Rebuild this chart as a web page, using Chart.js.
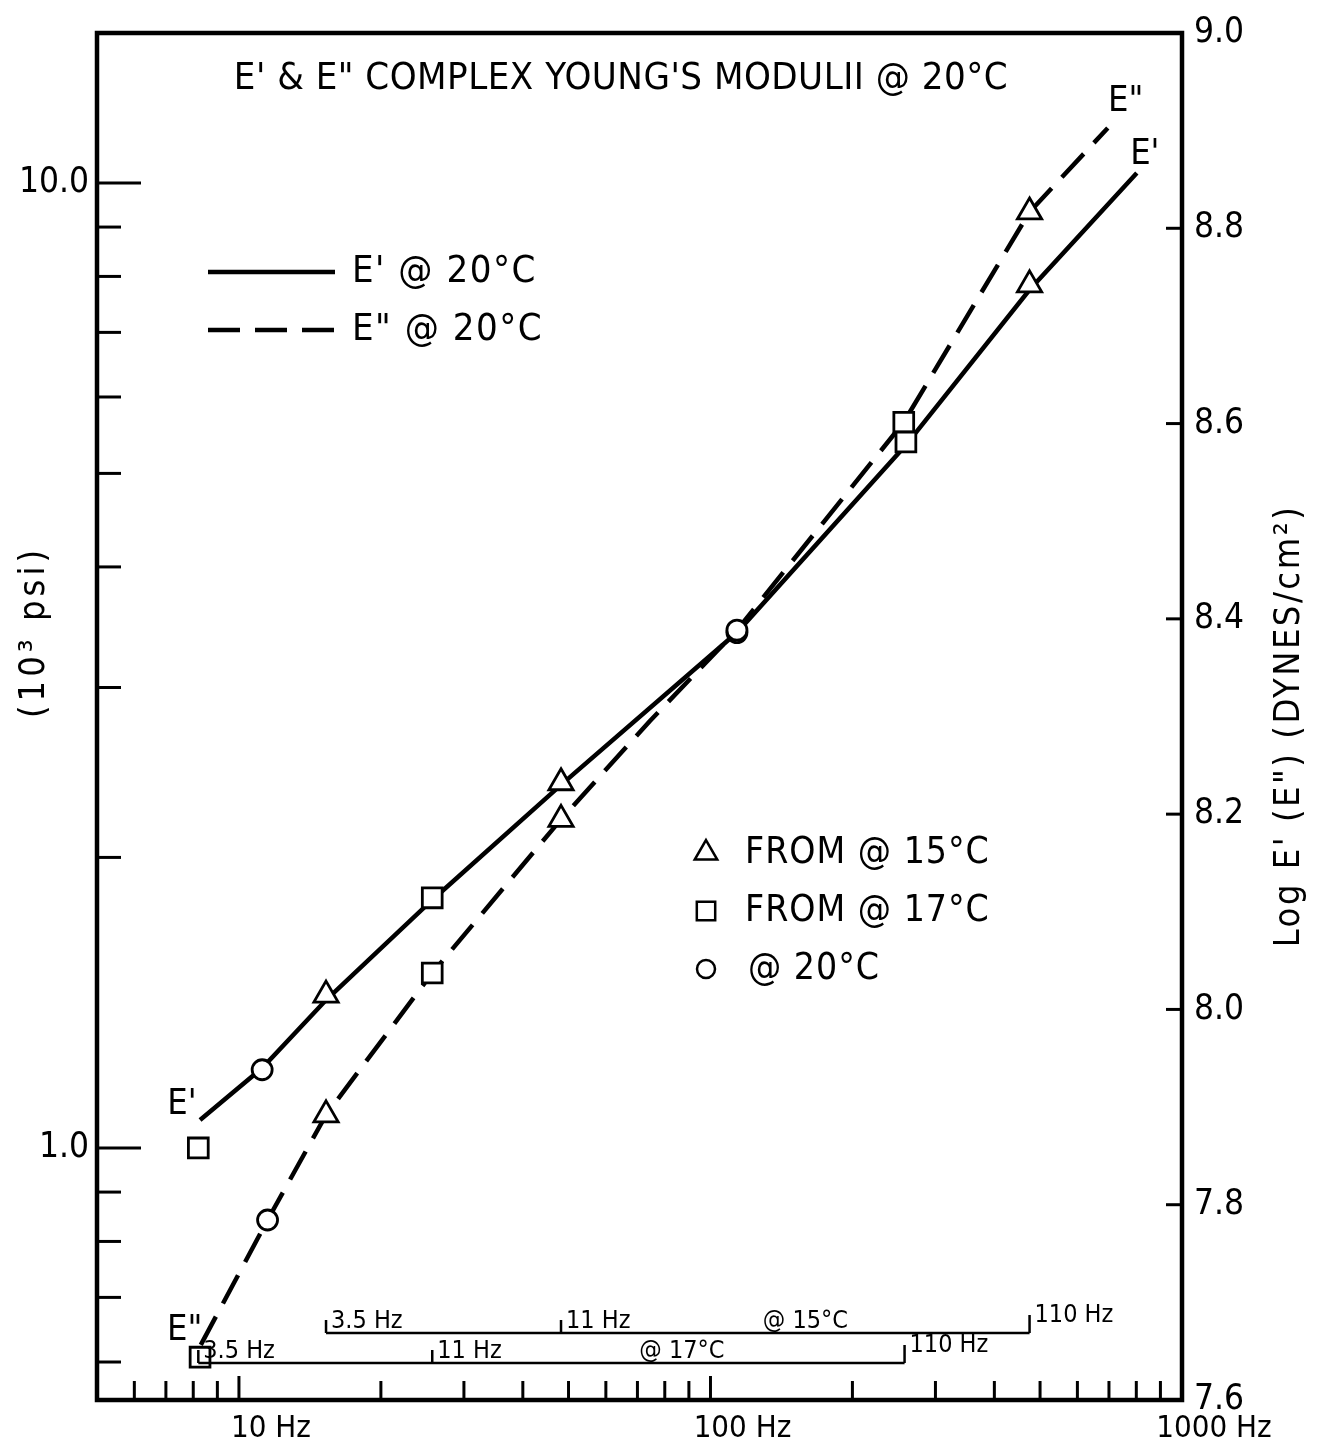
<!DOCTYPE html>
<html><head><meta charset="utf-8">
<script src="https://cdn.jsdelivr.net/npm/chart.js@4/dist/chart.umd.min.js"></script>
<style>html,body{margin:0;padding:0;background:#fff}#wrap{width:1323px;height:1439px}</style>
</head><body><div id="wrap"><canvas id="c" width="1323" height="1439"></canvas></div>
<script>
// ---- axis ticks ----
const X_TICKS = [6,7,8,9,10,20,30,40,50,60,70,80,90,100,200,300,400,500,600,700,800,900,1000];
const X_LABELS = {10:'10 Hz', 100:'100 Hz', 1000:'1000 Hz'};
const Y_TICKS = [0.6,0.7,0.8,0.9,1,2,3,4,5,6,7,8,9,10];
const Y_LABELS = {1:'1.0', 10:'10.0'};
const R_TICKS = [7.6,7.8,8.0,8.2,8.4,8.6,8.8,9.0];

// ---- curves (frequency Hz, modulus 10^3 psi) ----
const EP_FREQ  = [8.27, 11.2, 15.3, 25.7, 48.2, 113.8, 259.7, 475, 802];
const EP_VAL   = [1.069, 1.21, 1.423, 1.807, 2.378, 3.42, 5.35, 7.75, 10.24];
const EPP_FREQ = [8.3, 11.5, 15.3, 25.7, 48.2, 74.4, 113.8, 257, 475, 696];
const EPP_VAL  = [0.625, 0.842, 1.082, 1.518, 2.19, 2.77, 3.44, 5.65, 9.33, 11.4];

// ---- measured points ----
const T15_FREQ = [15.3, 15.3, 48.2, 48.2, 475, 475];
const T15_VAL  = [1.44, 1.082, 2.39, 2.19, 9.33, 7.84];
const S17_FREQ = [8.2, 8.27, 25.7, 25.7, 257, 259.7];
const S17_VAL  = [1.0, 0.607, 1.816, 1.518, 5.65, 5.39];
const C20_FREQ = [11.2, 11.5, 113.8, 113.8];
const C20_VAL  = [1.205, 0.842, 3.42, 3.44];

// ---- shifted-frequency brackets ----
const B15_FREQ  = [15.3, 48.2, 475];
const B17_FREQ  = [8.2, 25.7, 258];
const B_LABELS  = ['3.5 Hz', '11 Hz', '110 Hz'];
const TEMP_TEXT = ['@ 15°C', '@ 17°C'];
const TEMP_FREQ = [159, 87];

const FONT = "'DejaVu Sans Condensed','Liberation Sans Narrow','DejaVu Sans',sans-serif";
const zip = (a, b) => a.map((v, i) => ({x: v, y: b[i]}));

const decor = {
  id: 'decor',
  afterDraw(chart) {
    const {ctx, chartArea: a, scales: {x, y, yR}} = chart;
    const L = (x1, y1, x2, y2) => { ctx.beginPath(); ctx.moveTo(x1, y1); ctx.lineTo(x2, y2); ctx.stroke(); };
    const spacing = s => { try { ctx.letterSpacing = s; } catch (e) {} };
    ctx.save();
    ctx.strokeStyle = '#000'; ctx.fillStyle = '#000'; ctx.lineCap = 'butt';
    // frame
    ctx.lineWidth = 4.5;
    ctx.strokeRect(a.left, a.top, a.right - a.left, a.bottom - a.top);
    // inward ticks
    ctx.lineWidth = 3;
    X_TICKS.forEach(v => { if (v >= 1000) return; const p = x.getPixelForValue(v); L(p, a.bottom, p, a.bottom - (X_LABELS[v] ? 24 : 19)); });
    Y_TICKS.forEach(v => { const p = y.getPixelForValue(v); L(a.left, p, a.left + (Y_LABELS[v] ? 44 : 24), p); });
    R_TICKS.forEach(v => { if (v <= 7.6 || v >= 9.0) return; const p = yR.getPixelForValue(v); L(a.right - 16, p, a.right, p); });

    // title
    ctx.textBaseline = 'middle';
    ctx.textAlign = 'center';
    ctx.font = `38px ${FONT}`; spacing('0.5px');
    ctx.fillText('E\' & E" COMPLEX YOUNG\'S MODULII @ 20°C', a.left + 524, a.top + 46);

    // axis titles
    ctx.save();
    ctx.translate(35, 632); ctx.rotate(-Math.PI / 2);
    ctx.font = `36px ${FONT}`; spacing('4px'); ctx.fillText('(10³ psi)', 0, 0);
    ctx.restore();
    ctx.save();
    ctx.translate(1290, 726); ctx.rotate(-Math.PI / 2);
    ctx.font = `36px ${FONT}`; spacing('2.5px'); ctx.fillText('Log E\' (E") (DYNES/cm²)', 0, 0);
    ctx.restore();
    spacing('0px');

    // curve end labels
    const ds = chart.data.datasets;
    ctx.font = `36px ${FONT}`;
    const pe0 = ds[0].data[0], pe1 = ds[0].data[ds[0].data.length - 1];
    const pp0 = ds[1].data[0], pp1 = ds[1].data[ds[1].data.length - 1];
    ctx.fillText("E'", x.getPixelForValue(pe0.x) - 18, y.getPixelForValue(pe0.y) - 15);
    ctx.fillText('E"', x.getPixelForValue(pp0.x) - 16, y.getPixelForValue(pp0.y) - 14);
    ctx.fillText('E"', x.getPixelForValue(pp1.x) + 18, y.getPixelForValue(pp1.y) - 26);
    ctx.fillText("E'", x.getPixelForValue(pe1.x) + 8, y.getPixelForValue(pe1.y) - 18);

    // line legend
    ctx.lineWidth = 4.5;
    ctx.textAlign = 'left';
    [0, 1].forEach((k, i) => {
      const yy = a.top + 239 + i * 58;
      ctx.setLineDash(ds[k].borderDash || []);
      L(a.left + 111, yy, a.left + 238, yy);
      ctx.setLineDash([]);
      ctx.font = `38px ${FONT}`; spacing('1.5px');
      ctx.fillText(ds[k].label, a.left + 255, yy);
      spacing('0px');
    });
    // marker legend
    [2, 3, 4].forEach((k, i) => {
      const yy = a.top + 820 + i * 58;
      ctx.fillStyle = '#fff'; ctx.strokeStyle = '#000'; ctx.lineWidth = 2.5;
      Chart.helpers.drawPoint(ctx, {pointStyle: ds[k].pointStyle, radius: ds[k].pointStyle === 'circle' ? 9 : 13, borderWidth: 2.5, rotation: 0}, a.left + 609, yy);
      ctx.fillStyle = '#000';
      ctx.font = `37px ${FONT}`; spacing('1px');
      ctx.fillText(ds[k].label, a.left + (k === 4 ? 651 : 648), yy);
      spacing('0px');
    });

    // brackets
    const drawBracket = (freqs, off, temp, tfreq) => {
      const y0 = a.bottom - off;
      const px = freqs.map(f => x.getPixelForValue(f));
      ctx.lineWidth = 2.5;
      L(px[0], y0, px[px.length - 1], y0);
      px.forEach((p, i) => L(p, y0, p, y0 - (i === px.length - 1 ? 18 : 13)));
      ctx.font = `25px ${FONT}`;
      ctx.textAlign = 'left'; ctx.textBaseline = 'alphabetic';
      px.forEach((p, i) => ctx.fillText(B_LABELS[i], p + 5, y0 - (i === px.length - 1 ? 11 : 5)));
      ctx.textAlign = 'center';
      ctx.fillText(temp, x.getPixelForValue(tfreq), y0 - 5);
    };
    drawBracket(B15_FREQ, 67, TEMP_TEXT[0], TEMP_FREQ[0]);
    drawBracket(B17_FREQ, 37, TEMP_TEXT[1], TEMP_FREQ[1]);
    ctx.restore();
  }
};

const tickFont = {family: FONT, size: 35};
new Chart(document.getElementById('c'), {
  type: 'line',
  data: {
    datasets: [
      {label: "E' @ 20°C", data: zip(EP_FREQ, EP_VAL), borderColor: '#000', borderWidth: 4.5, pointRadius: 0, tension: 0, order: 3, yAxisID: 'y'},
      {label: 'E" @ 20°C', data: zip(EPP_FREQ, EPP_VAL), borderColor: '#000', borderWidth: 4.5, borderDash: [32, 15], pointRadius: 0, tension: 0, order: 2, yAxisID: 'y'},
      {label: 'FROM @ 15°C', data: zip(T15_FREQ, T15_VAL), showLine: false, pointStyle: 'triangle', pointRadius: 14, pointBorderWidth: 2.8, pointBackgroundColor: '#fff', pointBorderColor: '#000', order: 0, yAxisID: 'y'},
      {label: 'FROM @ 17°C', data: zip(S17_FREQ, S17_VAL), showLine: false, pointStyle: 'rect', pointRadius: 14, pointBorderWidth: 2.8, pointBackgroundColor: '#fff', pointBorderColor: '#000', order: 0, yAxisID: 'y'},
      {label: '@ 20°C', data: zip(C20_FREQ, C20_VAL), showLine: false, pointStyle: 'circle', pointRadius: 10, pointBorderWidth: 2.8, pointBackgroundColor: '#fff', pointBorderColor: '#000', order: 0, yAxisID: 'y'}
    ]
  },
  options: {
    responsive: false, animation: false, devicePixelRatio: 1, events: [],
    layout: {padding: {top: 33, left: 0, right: 0, bottom: 0}},
    plugins: {legend: {display: false}, tooltip: {enabled: false}},
    scales: {
      x: {
        type: 'logarithmic', min: 5, max: 1000,
        grid: {display: false}, border: {display: false},
        afterBuildTicks: s => { s.ticks = X_TICKS.map(v => ({value: v})); },
        ticks: {autoSkip: false, maxRotation: 0, color: '#000', font: {family: FONT, size: 31}, padding: 2, labelOffset: 32,
                callback: v => X_LABELS[v] || ''},
        afterFit: s => { s.height = 39; }
      },
      y: {
        type: 'logarithmic', position: 'left', min: 0.548, max: 14.3,
        grid: {display: false}, border: {display: false},
        afterBuildTicks: s => { s.ticks = Y_TICKS.map(v => ({value: v})); },
        ticks: {autoSkip: false, color: '#000', font: tickFont, padding: 0,
                callback: v => Y_LABELS[v] || ''},
        afterFit: s => { s.width = 97; }
      },
      yR: {
        type: 'linear', position: 'right', min: 7.6, max: 9.0,
        grid: {display: false}, border: {display: false},
        afterBuildTicks: s => { s.ticks = R_TICKS.map(v => ({value: v})); },
        ticks: {autoSkip: false, color: '#000', font: tickFont, padding: 4,
                callback: v => Number(v).toFixed(1)},
        afterFit: s => { s.width = 141; }
      }
    }
  },
  plugins: [decor]
});
</script>
</body></html>
